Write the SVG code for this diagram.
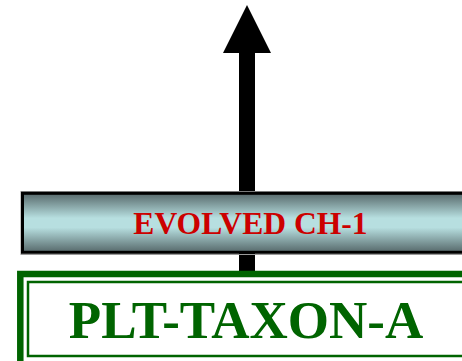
<svg xmlns="http://www.w3.org/2000/svg" width="462" height="361" viewBox="0 0 462 361">
  <defs>
    <linearGradient id="barGrad" x1="0" y1="0" x2="0" y2="1">
      <stop offset="0" stop-color="#56686a"/>
      <stop offset="0.42" stop-color="#b7dfe0"/>
      <stop offset="0.58" stop-color="#b7dfe0"/>
      <stop offset="1" stop-color="#56686a"/>
    </linearGradient>
    <marker id="head" markerUnits="userSpaceOnUse" markerWidth="48" markerHeight="48" viewBox="0 0 48 48" refX="0" refY="24" orient="auto">
      <path d="M0,0 L48,24 L0,48 Z" fill="#000"/>
    </marker>
    <style>
      .lbl { font-family: "Liberation Serif", "Times New Roman", serif; font-weight: bold; text-anchor: middle; }
    </style>
  </defs>
  <rect width="462" height="361" fill="#fff"/>
  <g id="connectors">
    <line x1="247" y1="272" x2="247" y2="53" stroke="#000" stroke-width="16" marker-end="url(#head)"/>
  </g>
  <g id="evolved-ch-1">
    <rect x="21" y="191.5" width="460" height="63" fill="none" stroke="#9a9a9a" stroke-width="1"/>
    <rect x="22.5" y="193.3" width="460" height="59" fill="url(#barGrad)" stroke="#000" stroke-width="3"/>
    <text class="lbl" x="250.5" y="234" font-size="31.6" fill="#cc0000">EVOLVED CH-1</text>
  </g>
  <g id="plt-taxon-a">
    <rect x="20.3" y="274" width="460" height="100" fill="#fff" stroke="#006400" stroke-width="6.5"/>
    <rect x="28" y="282" width="440" height="74" fill="none" stroke="#006400" stroke-width="2.5"/>
    <text class="lbl" x="246" y="338" font-size="53" fill="#006400">PLT-TAXON-A</text>
  </g>
</svg>
